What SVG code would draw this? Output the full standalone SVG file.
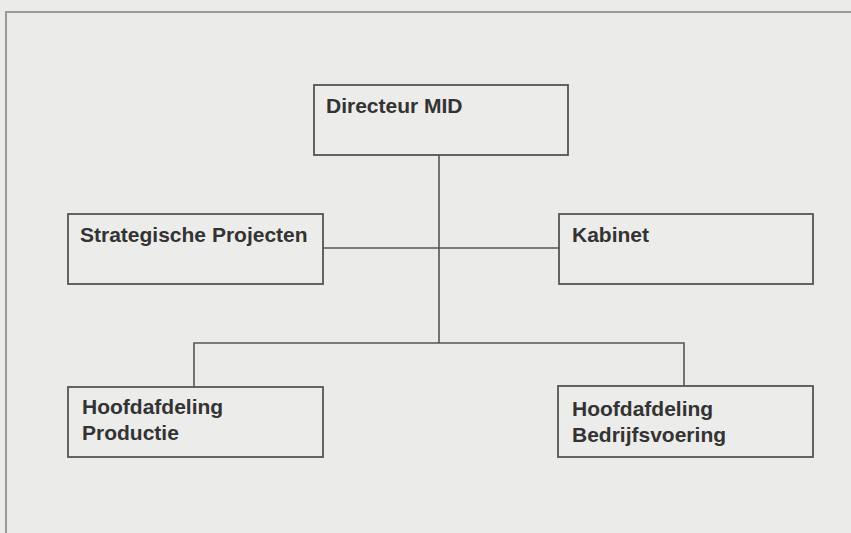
<svg xmlns="http://www.w3.org/2000/svg" width="851" height="533" viewBox="0 0 851 533">
<style>
.bg{fill:#ebebea}
.frame{fill:none;stroke:#9a9a9a;stroke-width:2}
.box{fill:#ececeb;stroke:#555;stroke-width:1.8}
.lbl{font-family:"Liberation Sans",Arial,sans-serif;font-weight:bold;font-size:21px;fill:#333}
.con{fill:none;stroke:#555;stroke-width:1.6}
</style>
<rect class="bg" x="0" y="0" width="851" height="533"/>
<path class="frame" d="M6,533 V12 H851"/>
<g id="connectors">
<line class="con" x1="439" y1="155" x2="439" y2="343"/>
<line class="con" x1="323" y1="248" x2="559" y2="248"/>
<path class="con" d="M194,387 V343 H684 V386"/>
</g>
<g id="directeur">
<rect class="box" x="314" y="85" width="254" height="70"/>
<text class="lbl" x="326" y="113">Directeur MID</text>
</g>
<g id="strategische">
<rect class="box" x="68" y="214" width="255" height="70"/>
<text class="lbl" x="80" y="242">Strategische Projecten</text>
</g>
<g id="kabinet">
<rect class="box" x="559" y="214" width="254" height="70"/>
<text class="lbl" x="572" y="242">Kabinet</text>
</g>
<g id="productie">
<rect class="box" x="68" y="387" width="255" height="70"/>
<text class="lbl" x="82" y="414">Hoofdafdeling</text>
<text class="lbl" x="82" y="440">Productie</text>
</g>
<g id="bedrijfsvoering">
<rect class="box" x="558" y="386" width="255" height="71"/>
<text class="lbl" x="572" y="416">Hoofdafdeling</text>
<text class="lbl" x="572" y="442">Bedrijfsvoering</text>
</g>
</svg>
